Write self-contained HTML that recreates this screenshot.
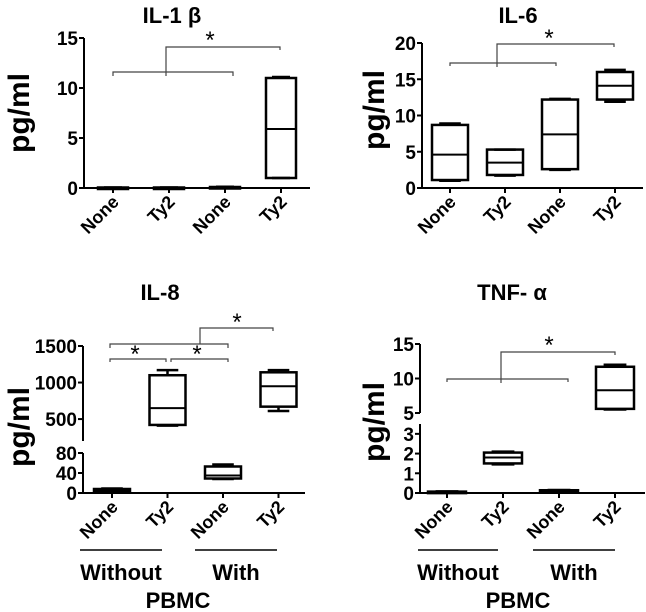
<!DOCTYPE html>
<html><head><meta charset="utf-8"><style>
body{margin:0;background:#fff;}
svg{display:block;font-family:"Liberation Sans",Arial,sans-serif;font-weight:bold;}
</style></head><body>
<svg id="chart" width="646" height="612" viewBox="0 0 646 612" xmlns="http://www.w3.org/2000/svg"></svg>
<script>
const categories=["None","Ty2","None","Ty2"];
// IL-1b
const il1bMin=[0.03,0.03,0.05,1.0];
const il1bQ1=[0.03,0.03,0.05,1.0];
const il1bMed=[0.04,0.04,0.08,5.9];
const il1bQ3=[0.05,0.05,0.1,11.0];
const il1bMax=[0.05,0.05,0.12,11.1];
const il1bTicks=[0,5,10,15];
// IL-6
const il6Min=[1.0,1.7,2.5,11.9];
const il6Q1=[1.1,1.8,2.6,12.2];
const il6Med=[4.6,3.5,7.4,14.1];
const il6Q3=[8.7,5.3,12.2,16.0];
const il6Max=[8.9,5.3,12.3,16.3];
const il6Ticks=[0,5,10,15,20];
// IL-8
const il8Min=[2,410,28,610];
const il8Q1=[3,420,29,670];
const il8Med=[5,650,35,950];
const il8Q3=[8,1100,53,1140];
const il8Max=[9,1170,57,1170];
const il8Ticks=[0,40,80,500,1000,1500];
// TNF-a
const tnfMin=[0.04,1.45,0.08,5.5];
const tnfQ1=[0.05,1.5,0.1,5.6];
const tnfMed=[0.06,1.8,0.12,8.3];
const tnfQ3=[0.07,2.05,0.14,11.7];
const tnfMax=[0.08,2.1,0.15,12.0];
const tnfTicks=[0,1,2,3,5,10,15];

const NS="http://www.w3.org/2000/svg";
const svg=document.getElementById('chart');
function mk(tag,attrs,parent){const e=document.createElementNS(NS,tag);for(const k in attrs)e.setAttribute(k,attrs[k]);(parent||svg).appendChild(e);return e;}
function segScale(segs){return v=>{for(const s of segs){if(v>=s.d0-1e-9&&v<=s.d1+1e-9)return s.p0+(v-s.d0)/(s.d1-s.d0)*(s.p1-s.p0);}const s=segs[segs.length-1];return s.p0+(v-s.d0)/(s.d1-s.d0)*(s.p1-s.p0);};}

function panel(cfg){
  const g=mk('g',{});
  
  
  const y=segScale(cfg.segs);
  const xs=i=>cfg.x0+cfg.step*i;
  const t=mk('text',{x:cfg.titleX,y:cfg.titleY,'font-size':22,'text-anchor':'middle'},g);
  t.textContent=cfg.title;
  
  
  const yl=mk('text',{x:0,y:0,'font-size':30,'text-anchor':'middle',transform:`translate(${cfg.ylX},${cfg.ylY}) rotate(-90)`},g);
  yl.textContent='pg/ml';
  
  
  for(const s of cfg.segs){
    const a=mk('line',{x1:cfg.ax,x2:cfg.ax,y1:s.p0,y2:s.p1,stroke:'#000','stroke-width':2},g);
    
    
  }
  for(const tv of cfg.ticks){
    const py=y(tv);
    mk('line',{x1:cfg.ax-5,x2:cfg.ax,y1:py,y2:py,stroke:'#000','stroke-width':2},g);
    const tl=mk('text',{x:cfg.ax-6,y:py+7,'font-size':19,'text-anchor':'end'},g);
    tl.textContent=String(tv);
    
    
  }
  const base=y(0);
  const xa=mk('line',{x1:cfg.ax,x2:cfg.xEnd,y1:base,y2:base,stroke:'#000','stroke-width':2},g);
  
  
  categories.forEach((c,i)=>{
    const cx=xs(i);
    mk('line',{x1:cx,x2:cx,y1:base,y2:base+5,stroke:'#000','stroke-width':2},g);
    const xl=mk('text',{x:0,y:0,'font-size':18,'text-anchor':'end',transform:`translate(${cx+7},${base+15}) rotate(-45)`},g);
    xl.textContent=c;
    
    
    const hw=cfg.hw, dd=cfg.data;
    const bg=mk('g',{},g);
    
    
    const yq1=y(dd.q1[i]),yq3=y(dd.q3[i]),ym=y(dd.med[i]),ymin=y(dd.min[i]),ymax=y(dd.max[i]);
    mk('line',{x1:cx,x2:cx,y1:ymax,y2:yq3,stroke:'#000','stroke-width':2.5},bg);
    mk('line',{x1:cx,x2:cx,y1:yq1,y2:ymin,stroke:'#000','stroke-width':2.5},bg);
    mk('line',{x1:cx-hw*0.6,x2:cx+hw*0.6,y1:ymax,y2:ymax,stroke:'#000','stroke-width':2.5},bg);
    mk('line',{x1:cx-hw*0.6,x2:cx+hw*0.6,y1:ymin,y2:ymin,stroke:'#000','stroke-width':2.5},bg);
    mk('rect',{x:cx-hw,y:yq3,width:hw*2,height:Math.max(yq1-yq3,1.5),fill:'none',stroke:'#000','stroke-width':2.5},bg);
    mk('line',{x1:cx-hw,x2:cx+hw,y1:ym,y2:ym,stroke:'#000','stroke-width':2},bg);
  });
  for(const b of cfg.brackets){
    const p=mk('path',{d:b,fill:'none',stroke:'#444','stroke-width':1.2},g);
    
    
  }
  for(const s of cfg.stars){
    const st=mk('text',{x:s[0],y:s[1],'font-size':24,'font-weight':'normal','text-anchor':'middle'},g);
    st.textContent='*';
    
    
  }
  if(cfg.groups){
    for(const gr of cfg.groups){
      mk('line',{x1:gr.x1,x2:gr.x2,y1:550,y2:550,stroke:'#000','stroke-width':1.5},g);
      const gt=mk('text',{x:(gr.x1+gr.x2)/2,y:580,'font-size':22,'text-anchor':'middle'},g);
      gt.textContent=gr.label;
      
      
    }
    const pb=mk('text',{x:cfg.pbmcX,y:608,'font-size':22,'text-anchor':'middle'},g);
    pb.textContent='PBMC';
    
    
  }
}

panel({name:'il1b',title:'IL-1 β',titleX:172,titleY:23,ylX:29,ylY:113,ax:84,xEnd:310,x0:113,step:56,hw:15,
  segs:[{d0:0,d1:15,p0:188,p1:38}],ticks:il1bTicks,
  data:{min:il1bMin,q1:il1bQ1,med:il1bMed,q3:il1bQ3,max:il1bMax},
  brackets:['M113,76 L113,72 L233,72 L233,76','M166,76 L166,47 L280,47 L280,50'],stars:[[210,48]]});
panel({name:'il6',title:'IL-6',titleX:518,titleY:23,ylX:384,ylY:110,ax:422,xEnd:643,x0:450,step:55,hw:18,
  segs:[{d0:0,d1:20,p0:188,p1:43}],ticks:il6Ticks,
  data:{min:il6Min,q1:il6Q1,med:il6Med,q3:il6Q3,max:il6Max},
  brackets:['M450,66 L450,63 L556,63 L556,66','M497,67 L497,44 L614,44 L614,47'],stars:[[549,46]]});
panel({name:'il8',title:'IL-8',titleX:160,titleY:300,ylX:29,ylY:427,ax:83,xEnd:305,x0:112,step:55.5,hw:18,
  segs:[{d0:0,d1:80,p0:493,p1:453},{d0:200,d1:1500,p0:441,p1:346}],ticks:il8Ticks,
  data:{min:il8Min,q1:il8Q1,med:il8Med,q3:il8Q3,max:il8Max},
  brackets:['M110,348 L110,344 L228,344 L228,348','M200,344 L200,328 L273,328 L273,331','M110,362 L110,359 L166,359 L166,362','M171,362 L171,359 L228,359 L228,362'],
  stars:[[237,330],[135,362],[197,362]],
  groups:[{x1:80,x2:162,label:'Without'},{x1:195,x2:277,label:'With'}],pbmcX:178});
panel({name:'tnf',title:'TNF- α',titleX:512,titleY:300,ylX:384,ylY:422,ax:420,xEnd:645,x0:447,step:56,hw:19,
  segs:[{d0:0,d1:3.5,p0:493,p1:424},{d0:5,d1:15,p0:413,p1:344}],ticks:tnfTicks,
  data:{min:tnfMin,q1:tnfQ1,med:tnfMed,q3:tnfQ3,max:tnfMax},
  brackets:['M447,382 L447,379 L568,379 L568,382','M501,383 L501,352 L615,352 L615,355'],stars:[[549,353]],
  groups:[{x1:418,x2:498,label:'Without'},{x1:533,x2:615,label:'With'}],pbmcX:518});
</script>
</body></html>
